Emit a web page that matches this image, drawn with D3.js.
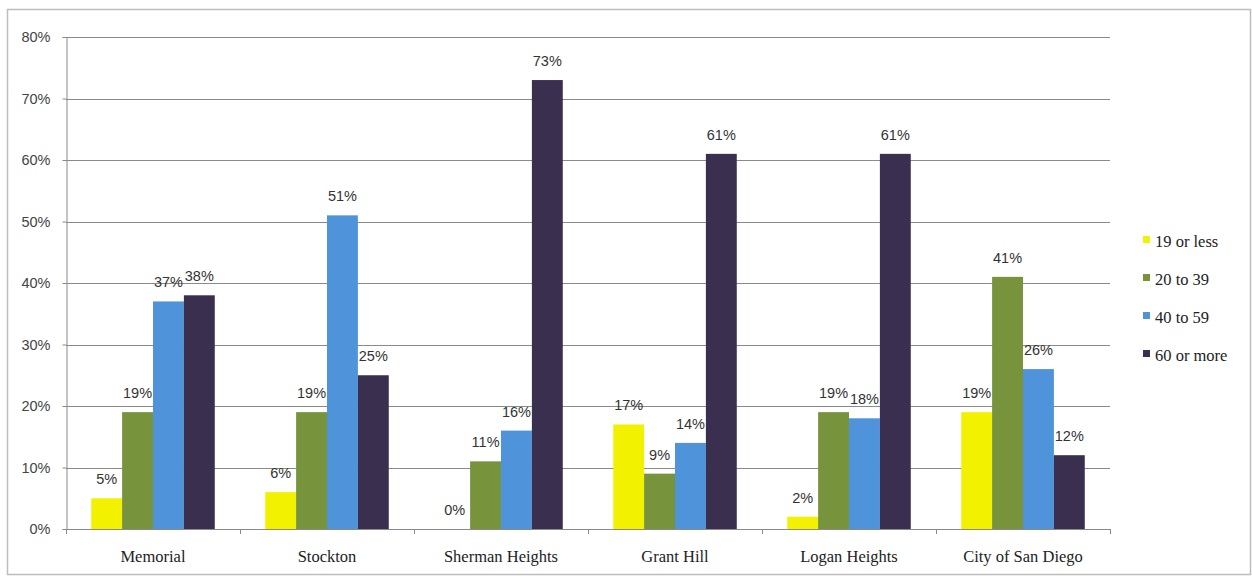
<!DOCTYPE html>
<html><head><meta charset="utf-8">
<script src="https://cdn.jsdelivr.net/npm/d3@7"></script>
<style>body{margin:0;background:#fff}svg{display:block}</style>
</head><body>
<script>
const categories = ["Memorial","Stockton","Sherman Heights","Grant Hill","Logan Heights","City of San Diego"];
const seriesNames = ["19 or less","20 to 39","40 to 59","60 or more"];
const s19 = [5,6,0,17,2,19];
const s20 = [19,19,11,9,19,41];
const s40 = [37,51,16,14,18,26];
const s60 = [38,25,73,61,61,12];
const yTicks = [0,10,20,30,40,50,60,70,80];
const colors = ["#f2f200","#77933c","#4f93db","#3a2f4e"];
const series = [s19,s20,s40,s60];

const W=1252,H=576;
const svg=d3.select("body").append("svg").attr("width",W).attr("height",H);
svg.append("rect").attr("x",7.5).attr("y",9.5).attr("width",W-9).attr("height",H-11).attr("fill","#fff").attr("stroke","#bdbdbd").attr("stroke-width",1.5);

const L=66,R=1110,T=37,B=529;
const x0=d3.scaleBand().domain(categories).range([L,R]).paddingInner(0.29).paddingOuter(0.145);
const x1=d3.scaleBand().domain(d3.range(4)).range([0,x0.bandwidth()]);
const y=d3.scaleLinear().domain([0,80]).range([B,T]);

// gridlines
svg.append("g").selectAll("line").data(yTicks.slice(1)).join("line")
 .attr("x1",L).attr("x2",R).attr("y1",d=>Math.round(y(d))+0.5).attr("y2",d=>Math.round(y(d))+0.5)
 .attr("stroke","#8a8a8a").attr("stroke-width",1);

const ya=d3.axisLeft(y).tickValues(yTicks).tickFormat(d=>d+"%").tickSize(4).tickPadding(12);
const gy=svg.append("g").attr("transform",`translate(${L+0.5},0)`).call(ya);
gy.selectAll("path,line").attr("stroke","#8a8a8a");
gy.selectAll("text").attr("font-family","'Liberation Sans',Arial,sans-serif").attr("font-size",14.5).attr("fill","#444");

// bars
const g=svg.append("g");
categories.forEach((c,i)=>{
  series.forEach((s,j)=>{
    const v=s[i];
    g.append("rect").attr("x",x0(c)+x1(j)).attr("width",x1.bandwidth()).attr("y",y(v)).attr("height",B-y(v)).attr("fill",colors[j]);
    g.append("text").attr("x",x0(c)+x1(j)+x1.bandwidth()/2).attr("y",y(v)-14).attr("text-anchor","middle")
     .attr("font-family","'Liberation Sans',Arial,sans-serif").attr("font-size",14.5).attr("fill","#333").text(v+"%");
  });
});

// x axis
const xs=d3.scalePoint().domain(d3.range(7)).range([L,R]);
svg.append("line").attr("x1",L).attr("x2",R).attr("y1",B+0.5).attr("y2",B+0.5).attr("stroke","#8a8a8a");
svg.append("g").selectAll("line").data(d3.range(7)).join("line")
 .attr("x1",d=>xs(d)+0.5).attr("x2",d=>xs(d)+0.5).attr("y1",B).attr("y2",B+5).attr("stroke","#8a8a8a");
svg.append("g").selectAll("text").data(categories).join("text")
 .attr("x",d=>x0(d)+x0.bandwidth()/2).attr("y",B+33).attr("text-anchor","middle")
 .attr("font-family","'Liberation Serif','Times New Roman',serif").attr("font-size",16.5).attr("fill","#222").text(d=>d);

// legend
const lg=svg.append("g").attr("transform","translate(1143,247)");
seriesNames.forEach((n,j)=>{
  const gg=lg.append("g").attr("transform",`translate(0,${j*38})`);
  gg.append("rect").attr("x",0).attr("y",-11).attr("width",7).attr("height",7).attr("fill",colors[j]);
  gg.append("text").attr("x",12).attr("y",0).attr("font-family","'Liberation Serif','Times New Roman',serif").attr("font-size",16.5).attr("fill","#222").text(n);
});
</script>
</body></html>
